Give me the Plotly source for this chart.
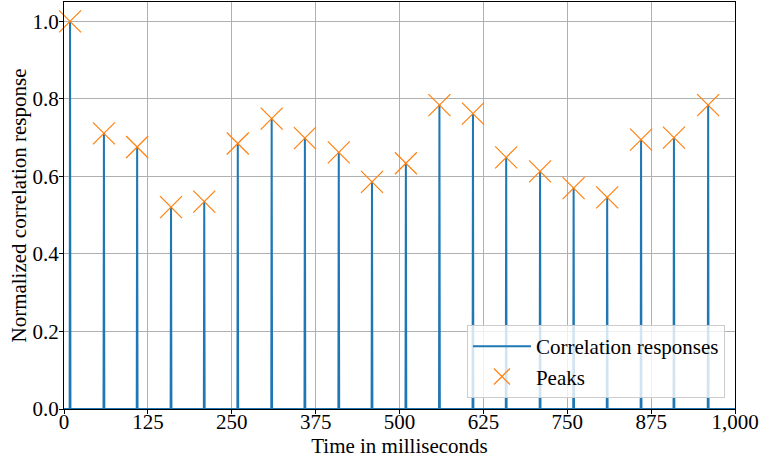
import plotly.graph_objects as go

# Peak times (ms) and normalized correlation values at each peak
peak_times = [9, 59.5, 109, 159.5, 209, 259, 309.5, 359, 409.5, 459,
              509.5, 559.5, 609.5, 659, 709.5, 759.5, 809.5, 860, 909, 960]
peak_values = [1.0, 0.711, 0.676, 0.521, 0.535, 0.685, 0.749, 0.699, 0.662, 0.586,
               0.634, 0.784, 0.762, 0.649, 0.613, 0.570, 0.546, 0.695, 0.700, 0.784]

x_ticks = [0, 125, 250, 375, 500, 625, 750, 875, 1000]
y_ticks = [0.0, 0.2, 0.4, 0.6, 0.8, 1.0]

# Correlation response: zero baseline with a narrow spike at each peak
resp_x, resp_y = [0], [0]
for t, v in zip(peak_times, peak_values):
    resp_x += [t - 0.6, t, t + 0.6]
    resp_y += [0, v, 0]
resp_x.append(1000)
resp_y.append(0)

font_family = "Liberation Serif, Times New Roman, serif"

fig = go.Figure()
fig.add_trace(go.Scatter(
    x=resp_x, y=resp_y, mode="lines", name="Correlation responses",
    line=dict(color="#1f77b4", width=2),
))
fig.add_trace(go.Scatter(
    x=peak_times, y=peak_values, mode="markers", name="Peaks",
    marker=dict(symbol="x-thin-open", size=22, color="#ff7f0e",
                line=dict(color="#ff7f0e", width=1.2)),
    cliponaxis=False,
))

axis_common = dict(
    showgrid=True, gridcolor="#b0b0b0", gridwidth=1,
    showline=True, linecolor="black", linewidth=1, mirror=True,
    ticks="outside", ticklen=4, tickcolor="black", tickwidth=1,
    zeroline=False,
    tickfont=dict(family=font_family, size=21, color="black"),
)

fig.update_layout(
    width=760, height=459,
    margin=dict(l=64, r=25, t=2, b=50),
    paper_bgcolor="white", plot_bgcolor="white",
    font=dict(family=font_family, size=21, color="black"),
    showlegend=True,
    legend=dict(
        x=0.985, y=0.027, xanchor="right", yanchor="bottom",
        bgcolor="rgba(255,255,255,0.8)", bordercolor="#cccccc", borderwidth=1,
        font=dict(family=font_family, size=21, color="black"),
        itemsizing="trace", itemwidth=58,
    ),
    xaxis=dict(
        range=[0, 1000], tickvals=x_ticks, tickformat=",",
        ticklabelstandoff=-10,
        title=dict(text="Time in milliseconds", standoff=0,
                   font=dict(family=font_family, size=21)),
        automargin=False,
        **axis_common,
    ),
    yaxis=dict(
        range=[0, 1.05], tickvals=y_ticks, tickformat=".1f",
        ticklabelstandoff=-4,
        title=dict(text="Normalized correlation response", standoff=0,
                   font=dict(family=font_family, size=21)),
        automargin=False,
        **axis_common,
    ),
)

fig.write_html("out.html")
